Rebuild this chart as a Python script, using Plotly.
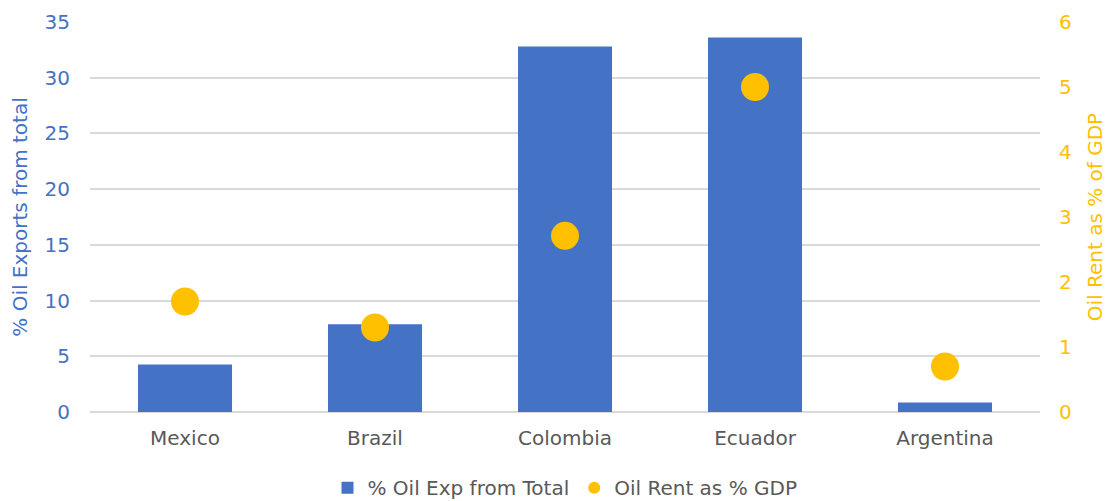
import plotly.graph_objects as go

countries = ["Mexico", "Brazil", "Colombia", "Ecuador", "Argentina"]
oil_exp_share = [4.26, 7.88, 32.8, 33.6, 0.85]
oil_rent_gdp = [1.70, 1.30, 2.71, 5.0, 0.70]
left_ticks = [0, 5, 10, 15, 20, 25, 30, 35]
right_ticks = [0, 1, 2, 3, 4, 5, 6]

BLUE = "#4472C4"
GOLD = "#FFC000"
GRAY = "#595959"
FONT = "DejaVu Sans, sans-serif"
FS = 20

fig = go.Figure()
fig.add_trace(go.Bar(
    x=countries, y=oil_exp_share, name="% Oil Exp from Total",
    marker=dict(color=BLUE, line=dict(width=0)), yaxis="y"))
fig.add_trace(go.Scatter(
    x=countries, y=oil_rent_gdp, name="Oil Rent as % GDP", mode="markers",
    marker=dict(color=GOLD, size=28, line=dict(width=0)), yaxis="y2"))

fig.update_layout(
    width=1107, height=501,
    margin=dict(l=90, r=67, t=22, b=89, pad=0, autoexpand=False),
    paper_bgcolor="white", plot_bgcolor="white",
    font=dict(family=FONT, size=FS, color=GRAY),
    bargap=0.505,
    showlegend=True,
    legend=dict(orientation="h", x=0.5, xanchor="center", y=-0.194, yanchor="middle",
                font=dict(size=FS, color=GRAY), itemwidth=30, traceorder="normal",
                itemsizing="constant"),
    xaxis=dict(showgrid=False, showline=False, ticks="", tickfont=dict(size=FS, color=GRAY),
               ticklabelstandoff=12),
    yaxis=dict(range=[0, 35], tickvals=left_ticks, showgrid=True, gridcolor="#D9D9D9",
               gridwidth=1.5, zeroline=True, zerolinecolor="#D9D9D9", zerolinewidth=1.5,
               ticks="", tickfont=dict(size=FS, color=BLUE), ticklabelstandoff=19,
               title=dict(text="% Oil Exports from total", font=dict(size=FS, color=BLUE),
                          standoff=11)),
    yaxis2=dict(range=[0, 6], tickvals=right_ticks, overlaying="y", side="right",
                showgrid=False, zeroline=False, ticks="",
                tickfont=dict(size=FS, color=GOLD), ticklabelstandoff=18,
                title=dict(text="Oil Rent as % of GDP", font=dict(size=FS, color=GOLD),
                           standoff=19)),
)

fig.write_html("out.html")
